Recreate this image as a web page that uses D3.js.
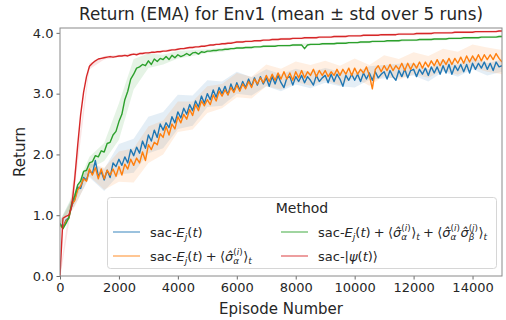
<!DOCTYPE html>
<html><head><meta charset="utf-8">
<script src="https://cdn.jsdelivr.net/npm/d3@7"></script>
<style>body{margin:0;background:#fff}svg{display:block}text{font-family:"DejaVu Sans",sans-serif;fill:#262626;white-space:pre}</style>
</head><body><svg id="c" width="506" height="320"></svg>
<script>
// ---- data ----
const episodeStep = 100;     // spacing of mean samples (episodes)
const bandStep = 500;        // spacing of std samples (episodes)
const xTicks = [0, 2000, 4000, 6000, 8000, 10000, 12000, 14000];
const yTicks = [0.0, 1.0, 2.0, 3.0, 4.0];
const methods = ["sac-Ej", "sac-Ej+sigma", "sac-Ej+sigma+corr", "sac-psi"];

const blueMean = [0.86,0.80,0.92,0.96,1.16,1.26,1.46,1.44,1.62,1.58,
1.74,1.68,1.90,1.64,1.72,1.58,1.74,1.62,1.86,1.80,
1.92,1.82,1.96,1.86,2.08,1.98,2.12,2.02,2.22,2.10,
2.32,2.22,2.40,2.28,2.50,2.40,2.52,2.44,2.62,2.52,
2.70,2.60,2.76,2.66,2.82,2.72,2.88,2.78,2.96,2.84,
3.00,2.90,3.06,2.94,3.10,3.00,3.12,2.98,3.16,3.04,
3.18,3.06,3.20,3.10,3.24,3.12,3.26,3.14,3.28,3.16,
3.26,3.12,3.28,3.16,3.30,3.18,3.10,3.26,3.28,3.14,
3.28,3.20,3.30,3.18,3.28,3.22,3.14,3.30,3.20,3.26,
3.30,3.18,3.32,3.20,3.32,3.24,3.12,3.30,3.22,3.32,
3.22,3.32,3.20,3.34,3.24,3.34,3.22,3.36,3.26,3.32,
3.36,3.24,3.38,3.28,3.22,3.38,3.28,3.40,3.26,3.38,
3.40,3.28,3.40,3.32,3.42,3.30,3.44,3.34,3.44,3.32,
3.46,3.34,3.48,3.32,3.46,3.38,3.48,3.36,3.48,3.34,
3.50,3.40,3.50,3.42,3.52,3.40,3.50,3.38,3.52,3.44,3.46];

const orangeMean = [0.84,0.78,0.90,0.95,1.18,1.24,1.42,1.48,1.60,1.56,
1.76,1.66,1.78,1.60,1.76,1.60,1.74,1.66,1.76,1.64,
1.80,1.66,1.84,1.76,1.92,1.82,1.94,1.86,2.04,1.90,
2.16,2.08,2.20,2.16,2.34,2.28,2.46,2.32,2.50,2.42,
2.62,2.52,2.66,2.58,2.74,2.64,2.82,2.72,2.88,2.80,
2.90,2.82,2.98,2.88,3.04,2.96,3.06,2.98,3.10,3.02,
3.14,3.04,3.16,3.08,3.20,3.10,3.24,3.16,3.26,3.18,
3.30,3.20,3.32,3.22,3.34,3.24,3.36,3.24,3.34,3.22,
3.36,3.26,3.38,3.26,3.36,3.30,3.40,3.28,3.38,3.30,
3.38,3.28,3.36,3.30,3.40,3.30,3.40,3.32,3.42,3.30,
3.42,3.32,3.40,3.34,3.44,3.30,3.08,3.40,3.46,3.36,
3.46,3.38,3.48,3.38,3.46,3.40,3.50,3.38,3.50,3.40,
3.50,3.42,3.52,3.42,3.52,3.44,3.54,3.46,3.56,3.46,
3.56,3.48,3.58,3.48,3.58,3.50,3.60,3.50,3.62,3.52,
3.62,3.54,3.64,3.54,3.64,3.56,3.64,3.56,3.66,3.58,3.52];

const greenMean = [0.86,0.78,0.86,0.96,1.20,1.32,1.50,1.56,1.72,1.74,
1.86,1.88,1.98,1.96,2.06,2.04,2.18,2.20,2.32,2.38,
2.54,2.66,2.90,3.04,3.24,3.32,3.42,3.44,3.48,3.46,
3.54,3.48,3.57,3.53,3.58,3.56,3.61,3.56,3.63,3.59,
3.64,3.61,3.63,3.66,3.63,3.67,3.68,3.65,3.69,3.68,
3.70,3.70,3.71,3.71,3.72,3.72,3.73,3.73,3.74,3.74,
3.75,3.75,3.75,3.76,3.76,3.76,3.77,3.77,3.77,3.78,
3.78,3.78,3.78,3.78,3.79,3.79,3.79,3.79,3.79,3.80,
3.80,3.80,3.80,3.74,3.80,3.81,3.81,3.81,3.81,3.82,
3.82,3.82,3.82,3.82,3.83,3.83,3.83,3.83,3.84,3.84,
3.84,3.84,3.85,3.85,3.85,3.85,3.86,3.86,3.86,3.86,
3.86,3.87,3.87,3.87,3.87,3.87,3.88,3.88,3.88,3.88,
3.88,3.88,3.89,3.89,3.89,3.89,3.89,3.90,3.90,3.90,
3.90,3.90,3.91,3.91,3.91,3.91,3.91,3.92,3.92,3.92,
3.92,3.92,3.92,3.93,3.93,3.93,3.93,3.93,3.93,3.94,3.94];

const redMean = [0.00,0.95,0.98,1.00,1.15,1.60,2.15,2.65,3.02,3.28,
3.45,3.50,3.54,3.57,3.58,3.59,3.60,3.61,3.60,3.61,
3.62,3.62,3.63,3.62,3.64,3.65,3.64,3.66,3.66,3.67,
3.67,3.68,3.68,3.69,3.69,3.70,3.70,3.71,3.72,3.72,
3.73,3.74,3.74,3.75,3.76,3.76,3.77,3.77,3.78,3.78,
3.79,3.80,3.80,3.81,3.81,3.82,3.82,3.83,3.83,3.84,
3.85,3.85,3.85,3.86,3.86,3.86,3.87,3.87,3.87,3.88,
3.88,3.88,3.89,3.89,3.89,3.90,3.90,3.90,3.90,3.91,
3.91,3.91,3.91,3.92,3.92,3.92,3.92,3.92,3.93,3.93,
3.93,3.93,3.93,3.94,3.94,3.94,3.94,3.94,3.95,3.95,
3.95,3.95,3.95,3.96,3.96,3.96,3.96,3.96,3.96,3.97,
3.97,3.97,3.97,3.97,3.97,3.98,3.98,3.98,3.98,3.98,
3.98,3.99,3.99,3.99,3.99,3.99,3.99,4.00,4.00,4.00,
4.00,4.00,4.00,4.00,4.01,4.01,4.01,4.01,4.01,4.01,
4.01,4.02,4.02,4.02,4.02,4.02,4.02,4.02,4.02,4.03,4.03];

// std at every bandStep episodes
const blueStd   = [0.05,0.10,0.12,0.18,0.25,0.28,0.30,0.30,0.28,0.25,0.22,0.20,0.18,0.15,0.14,0.14,0.13,0.13,0.12,0.12,0.12,0.11,0.11,0.11,0.10,0.10,0.10,0.10,0.10,0.10,0.10];
const orangeStd = [0.05,0.10,0.12,0.18,0.25,0.28,0.30,0.28,0.25,0.23,0.22,0.20,0.20,0.18,0.18,0.17,0.17,0.17,0.16,0.16,0.16,0.17,0.17,0.17,0.18,0.18,0.18,0.19,0.19,0.20,0.20];
const greenStd  = [0.05,0.08,0.10,0.15,0.30,0.25,0.12,0.08,0.06,0.05,0.03,0.03,0.02,0.02,0.02,0.02,0.02,0.02,0.02,0.02,0.02,0.02,0.02,0.02,0.02,0.02,0.02,0.02,0.02,0.02,0.02];
const redStd    = [0.05,0.15,0.05,0.03,0.02,0.02,0.02,0.02,0.02,0.02,0.02,0.02,0.02,0.02,0.02,0.02,0.02,0.02,0.02,0.02,0.02,0.02,0.02,0.02,0.02,0.02,0.02,0.02,0.02,0.02,0.02];

const colors = ["#1f77b4", "#ff7f0e", "#2ca02c", "#d62728"];

// ---- chart ----
const W = 506, H = 320;
const m = {l: 60, r: 4, t: 28, b: 44};
const svg = d3.select("#c");
const x = d3.scaleLinear().domain([0, 15000]).range([m.l, W - m.r]);
const y = d3.scaleLinear().domain([0, 4.08]).range([H - m.b, m.t]);

const series = [
  {mean: blueMean, std: blueStd},
  {mean: orangeMean, std: orangeStd},
  {mean: greenMean, std: greenStd},
  {mean: redMean, std: redStd}
];

svg.append("clipPath").attr("id", "pc").append("rect")
  .attr("x", m.l).attr("y", m.t).attr("width", W - m.r - m.l).attr("height", H - m.b - m.t);
const plot = svg.append("g").attr("clip-path", "url(#pc)");

const ratio = bandStep / episodeStep;
// bands
series.forEach((s, k) => {
  const pts = s.std.map((sd, j) => ({e: j * bandStep, m: s.mean[j * ratio], sd}));
  plot.append("path").datum(pts)
    .attr("fill", colors[k]).attr("fill-opacity", 0.12)
    .attr("d", d3.area().x(d => x(d.e)).y0(d => y(d.m - d.sd)).y1(d => y(d.m + d.sd)));
});
// lines
series.forEach((s, k) => {
  plot.append("path").datum(s.mean)
    .attr("fill", "none").attr("stroke", colors[k]).attr("stroke-width", 1.4)
    .attr("stroke-linejoin", "round")
    .attr("d", d3.line().x((d, i) => x(i * episodeStep)).y(d => y(d)));
});

// axes
const xa = svg.append("g").attr("transform", `translate(0,${H - m.b})`)
  .call(d3.axisBottom(x).tickValues(xTicks).tickSize(3.5).tickPadding(3).tickFormat(d3.format("d")));
const ya = svg.append("g").attr("transform", `translate(${m.l},0)`)
  .call(d3.axisLeft(y).tickValues(yTicks).tickSize(3.5).tickPadding(3).tickFormat(d3.format(".1f")));
[xa, ya].forEach(a => {
  a.select(".domain").remove();
  a.selectAll("line").attr("stroke", "#444").attr("stroke-width", 0.8);
  a.selectAll("text").attr("font-size", 13).attr("fill", "#262626").attr("font-family", "DejaVu Sans");
});
svg.append("rect").attr("x", m.l).attr("y", m.t).attr("width", W - m.r - m.l).attr("height", H - m.b - m.t)
  .attr("fill", "none").attr("stroke", "#8a8a8a").attr("stroke-width", 1);

svg.append("text").attr("x", (m.l + W - m.r) / 2).attr("y", 20).attr("text-anchor", "middle")
  .attr("font-size", 16.8).text("Return (EMA) for Env1 (mean ± std over 5 runs)");
svg.append("text").attr("x", (m.l + W - m.r) / 2).attr("y", 314).attr("text-anchor", "middle")
  .attr("font-size", 15).text("Episode Number");
svg.append("text").attr("transform", `translate(25,${(m.t + H - m.b) / 2}) rotate(-90)`)
  .attr("text-anchor", "middle").attr("font-size", 15).text("Return");

// legend
const lg = svg.append("g");
lg.append("rect").attr("x", 107.5).attr("y", 197.5).attr("width", 389).attr("height", 71).attr("rx", 3)
  .attr("fill", "#fff").attr("fill-opacity", 0.8).attr("stroke", "#d6d6d6").attr("stroke-width", 1);
lg.append("text").attr("x", 302).attr("y", 213).attr("text-anchor", "middle").attr("font-size", 14).text("Method");

function seg(t, segs) {
  segs.forEach(([s, it]) => t.append("tspan").text(s).attr("font-style", it ? "italic" : null));
}
function mathRun(g, x0, y0, size, items) {
  let cx = x0;
  items.forEach(it => {
    if (it.stack) {
      const fs = size * 0.68;
      const sup = g.append("text").attr("x", cx).attr("y", y0 - size * 0.42).attr("font-size", fs); seg(sup, it.stack[0]);
      const sub = g.append("text").attr("x", cx).attr("y", y0 + size * 0.3).attr("font-size", fs); seg(sub, it.stack[1]);
      cx += Math.max(sup.node().getComputedTextLength(), sub.node().getComputedTextLength()) + 0.5;
    } else {
      const fs = it.sub ? size * 0.7 : size;
      const t = g.append("text").attr("x", cx).attr("y", y0 + (it.sub ? size * 0.25 : 0)).attr("font-size", fs);
      seg(t, it.s);
      cx += t.node().getComputedTextLength();
    }
  });
}
const Ej = [{s: [["sac-", 0], ["E", 1]]}, {sub: 1, s: [["j", 1]]}, {s: [["(", 0], ["t", 1], [")", 0]]}];
const sig = [{s: [["σ\u0302", 1]]}, {stack: [[["(", 0], ["i", 1], [")", 0]], [["α", 1]]]}];
const sigB = [{s: [["σ\u0302", 1]]}, {stack: [[["(", 0], ["j", 1], [")", 0]], [["β", 1]]]}];
const plus = {s: [["\u2005+\u2005⟨", 0]]};
const labels = [
  Ej,
  [...Ej, plus, ...sig, {s: [["⟩", 0]]}, {sub: 1, s: [["t", 1]]}],
  [...Ej, plus, ...sig, {s: [["⟩", 0]]}, {sub: 1, s: [["t", 1]]},
   plus, ...sig, ...sigB, {s: [["⟩", 0]]}, {sub: 1, s: [["t", 1]]}],
  [{s: [["sac-|", 0], ["ψ", 1], ["(", 0], ["t", 1], [")⟩", 0]]}]
];
const pos = [[113, 232], [113, 256], [281, 232], [281, 256]];
methods.forEach((name, k) => {
  const [lx, ly] = pos[k];
  lg.append("line").attr("x1", lx).attr("x2", lx + 27).attr("y1", ly).attr("y2", ly)
    .attr("stroke", colors[k]).attr("stroke-opacity", 0.6).attr("stroke-width", 1.5);
  mathRun(lg, lx + 37, ly + 4.5, 13, labels[k]);
});
</script></body></html>
